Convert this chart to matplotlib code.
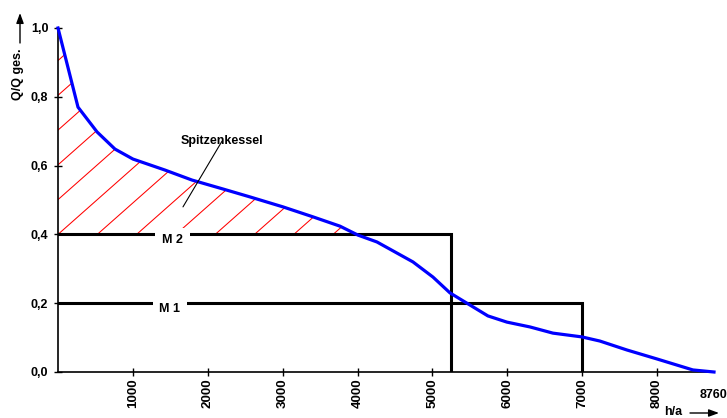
import numpy as np
import matplotlib
matplotlib.use('Agg')
import matplotlib.pyplot as plt
from matplotlib.transforms import blended_transform_factory

# ---- data ----
hours = [0, 267, 521, 761, 1001, 1429, 1789, 2203, 2563, 3004, 3405, 3765,
         4005, 4259, 4740, 5007, 5234, 5461, 5741, 5995, 6302, 6609, 6996,
         7236, 7597, 7997, 8478, 8760]
load = [1.0, 0.77, 0.698, 0.648, 0.619, 0.587, 0.558, 0.532, 0.509, 0.48,
        0.451, 0.424, 0.398, 0.378, 0.32, 0.276, 0.23, 0.2, 0.163, 0.145,
        0.131, 0.113, 0.102, 0.09, 0.064, 0.038, 0.006, 0.0]

machines = ['M 1', 'M 2']
machine_share = [0.2, 0.4]
machine_hours = [7000, 5250]
machine_label_x = [1495, 1530]

xticks = [1000, 2000, 3000, 4000, 5000, 6000, 7000, 8000]
yticks = [0.0, 0.2, 0.4, 0.6, 0.8, 1.0]
ytick_labels = ['0,0', '0,2', '0,4', '0,6', '0,8', '1,0']
year_hours = 8760
peak_label = 'Spitzenkessel'
peak_label_pos = (2190, 0.671)
peak_pointer = (1669, 0.480)

# ---- style ----
FONT = 'Liberation Sans'
plt.rcParams['font.family'] = [FONT, 'DejaVu Sans']
plt.rcParams['font.weight'] = 'bold'
FS = 9

W, H = 727, 418
fig = plt.figure(figsize=(W / 100, H / 100), dpi=100)
ax = fig.add_axes([58 / W, 46 / H, (714 - 58) / W, (372 - 28) / H])
ax.set_xlim(0, year_hours)
ax.set_ylim(0, 1.0)

for s in ['top', 'right']:
    ax.spines[s].set_visible(False)
for s in ['left', 'bottom']:
    ax.spines[s].set_linewidth(1.2)

# load duration curve
x = np.array(hours, dtype=float)
y = np.array(load, dtype=float)
ax.plot(x, y, color='#0000ff', lw=2.3, zorder=5, clip_on=False,
        solid_joinstyle='round')

# machines
for name, share, hrs, lx in zip(machines, machine_share, machine_hours, machine_label_x):
    ax.plot([0, hrs, hrs], [share, share, 0], color='black', lw=2.2,
            zorder=3, solid_joinstyle='miter')
    ax.text(lx, share, name, ha='center', va='top', fontsize=FS,
            fontweight='bold', zorder=4,
            bbox=dict(boxstyle='square,pad=0.55', fc='white', ec='none'),
            transform=ax.transData)

# hatched peak area (between curve and top machine level)
base = max(machine_share)
poly = ax.fill_between(x, y, base, where=y >= base, interpolate=True,
                       facecolor='none', edgecolor='none', zorder=1)
clip_path = poly.get_paths()[0]
fig.canvas.draw()
inv = ax.transData.inverted()
p0 = inv.transform((0, 0))
p1 = inv.transform((1, 1))
dx_px = p1[0] - p0[0]
dy_px = p1[1] - p0[1]
angle = np.deg2rad(41.5)
spacing = 39.3 * dx_px
slope = np.tan(angle) * dy_px / dx_px
for k in range(-15, 10):
    x0 = k * spacing
    xs = np.array([x0, x0 + (1.05 - base) / slope])
    ys = base + slope * (xs - x0)
    ln, = ax.plot(xs, ys, color='#ff0000', lw=0.75, zorder=2)
    ln.set_clip_path(clip_path, ax.transData)

# annotation
ax.annotate(peak_label, xy=peak_pointer, xytext=peak_label_pos,
            ha='center', va='center', fontsize=FS, fontweight='bold',
            arrowprops=dict(arrowstyle='-', color='black', lw=0.8,
                            shrinkA=0, shrinkB=0, patchA=None),
            zorder=6)

# ticks
ax.set_xticks(xticks)
ax.set_xticklabels([str(t) for t in xticks], rotation=90, fontsize=9.6,
                   fontweight='bold', va='top')
ax.set_yticks(yticks)
ax.set_yticklabels(ytick_labels, fontsize=FS, fontweight='bold')
ax.tick_params(axis='both', direction='inout', length=5.5, width=1.0)
ax.tick_params(axis='y', pad=4.2)
ax.tick_params(axis='x', pad=2.2)

tr = blended_transform_factory(ax.transData, fig.transFigure)
ax.text(year_hours, 1 - 395 / H, str(year_hours), transform=tr,
        ha='center', va='center', fontsize=FS, fontweight='bold')

# axis labels with arrows
fig.text(18 / W, 1 - 74 / H, 'Q/Q ges.', rotation=90, ha='center',
         va='center', fontsize=FS, fontweight='bold')
ax.annotate('', xy=(20, H - 13), xytext=(20, H - 43),
            xycoords='figure pixels', textcoords='figure pixels',
            arrowprops=dict(arrowstyle='-|>,head_length=0.6,head_width=0.22',
                            color='black', lw=1.0, shrinkA=0, shrinkB=0),
            annotation_clip=False)
fig.text(673 / W, 3 / H, 'h/a', ha='center', va='baseline', fontsize=FS,
         fontweight='bold')
ax.annotate('', xy=(719, 5), xytext=(690, 5),
            xycoords='figure pixels', textcoords='figure pixels',
            arrowprops=dict(arrowstyle='-|>,head_length=0.6,head_width=0.22',
                            color='black', lw=1.0, shrinkA=0, shrinkB=0),
            annotation_clip=False)

fig.savefig('out.png', dpi=100)
